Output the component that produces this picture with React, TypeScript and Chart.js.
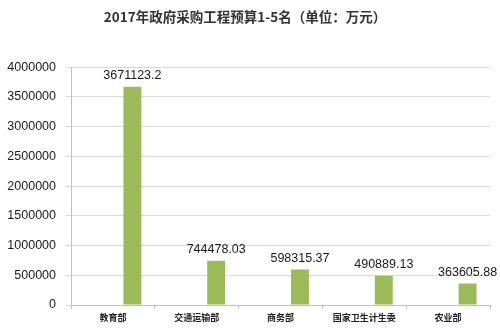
import React, { useEffect, useRef } from "react";
import { Chart, registerables } from "chart.js";

Chart.register(...registerables);

const titleText = "2017年政府采购工程预算1-5名（单位：万元）";
const categories = ["教育部", "交通运输部", "商务部", "国家卫生计生委", "农业部"];
const emptySeries: (number | null)[] = [null, null, null, null, null];
const budgetValues = [3671123.2, 744478.03, 598315.37, 490889.13, 363605.88];
const budgetLabels = ["3671123.2", "744478.03", "598315.37", "490889.13", "363605.88"];
const yTicks = [0, 500000, 1000000, 1500000, 2000000, 2500000, 3000000, 3500000, 4000000];

const labelPlugin = {
  id: "barValueLabels",
  afterDatasetsDraw(chart: any) {
    const meta = chart.getDatasetMeta(1);
    const ctx = chart.ctx;
    ctx.save();
    ctx.font = "12.5px 'Liberation Sans', Arial, sans-serif";
    ctx.fillStyle = "#1a1a1a";
    ctx.textAlign = "center";
    ctx.textBaseline = "middle";
    meta.data.forEach((el: any, i: number) => {
      ctx.fillText(budgetLabels[i], el.x, el.y - 11);
    });
    ctx.restore();
  },
};

export default function App() {
  const ref = useRef<HTMLCanvasElement>(null);
  useEffect(() => {
    document.body.style.margin = "0";
    const chart = new Chart(ref.current!, {
      type: "bar",
      data: {
        labels: categories,
        datasets: [
          { label: "", data: emptySeries, backgroundColor: "#9bbb59" },
          { label: "预算", data: budgetValues, backgroundColor: "#9bbb59" },
        ],
      },
      options: {
        animation: false,
        responsive: false,
        maintainAspectRatio: false,
        layout: { padding: { left: 0, right: 10, top: 0, bottom: 0 } },
        datasets: { bar: { categoryPercentage: 0.93, barPercentage: 0.46 } } as any,
        plugins: {
          legend: { display: false },
          tooltip: { enabled: false },
          title: {
            display: true,
            text: titleText,
            color: "#333333",
            font: { family: "'Noto Sans CJK SC', sans-serif", size: 13.5, weight: "bold" },
            padding: { top: 9, bottom: 42 },
          },
        },
        scales: {
          x: {
            grid: { display: true, drawOnChartArea: false, offset: true, tickLength: 4, color: "#bfbfbf" },
            border: { display: true, color: "#bfbfbf" },
            ticks: {
              color: "#222222",
              font: { family: "'Noto Sans CJK SC', sans-serif", size: 9, weight: "bold" },
              padding: 3,
              maxRotation: 0,
              autoSkip: false,
            },
            afterFit: (s: any) => { s.height = 27; },
          },
          y: {
            min: 0,
            max: 4000000,
            afterBuildTicks: (s: any) => { s.ticks = yTicks.map((v) => ({ value: v })); },
            grid: { color: "#d9d9d9", tickLength: 5 },
            border: { display: true, color: "#bfbfbf" },
            ticks: {
              color: "#1a1a1a",
              font: { family: "'Liberation Sans', Arial, sans-serif", size: 12.5 },
              padding: 10,
              callback: (v: any) => String(v),
            },
            afterFit: (s: any) => { s.width = 71; },
          },
        },
      },
      plugins: [labelPlugin],
    });
    return () => chart.destroy();
  }, []);
  return <canvas ref={ref} width={500} height={332} style={{ display: "block", width: 500, height: 332 }} />;
}
